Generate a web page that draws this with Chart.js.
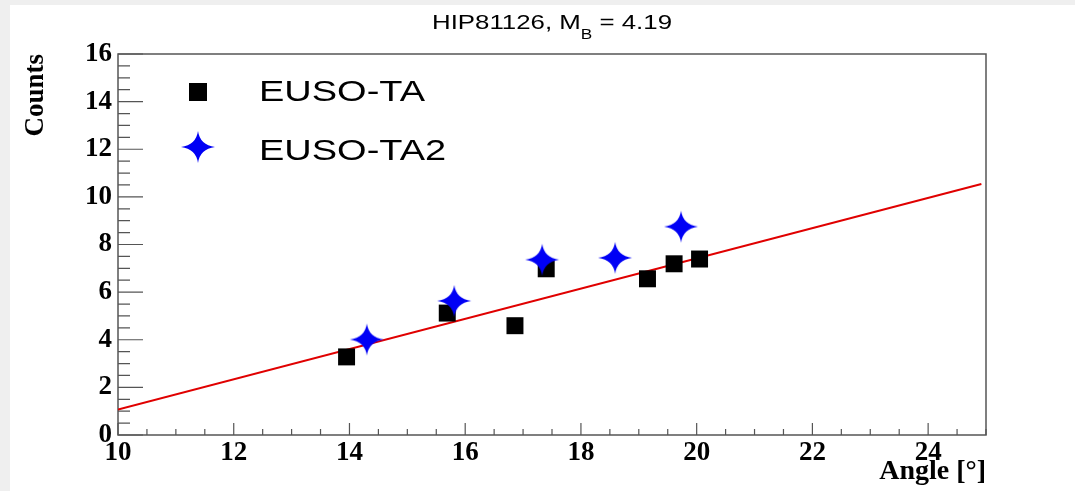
<!DOCTYPE html>
<html>
<head>
<meta charset="utf-8">
<style>
  html, body { margin: 0; padding: 0; background: #efefef; }
  canvas { display: block; }
</style>
<script src="https://cdn.jsdelivr.net/npm/chart.js@4.4.1/dist/chart.umd.min.js"></script>
</head>
<body>
<canvas id="chart" width="1075" height="491"></canvas>
<script>
// EUSO-TA points (black squares)
const taAngle = [13.95, 15.69, 16.86, 17.40, 19.15, 19.61, 20.05];
const taCounts = [3.28, 5.12, 4.59, 6.98, 6.56, 7.19, 7.39];

// EUSO-TA2 points (blue stars)
const ta2Angle = [14.30, 15.81, 17.33, 18.59, 19.73];
const ta2Counts = [4.01, 5.63, 7.36, 7.44, 8.75];

// linear fit (end points of the red line)
const fitAngle = [10, 24.92];
const fitCounts = [1.07, 10.54];

// axes
const xTicks = [10, 12, 14, 16, 18, 20, 22, 24];
const yTicks = [0, 2, 4, 6, 8, 10, 12, 14, 16];
const xMin = 10, xMax = 25, yMin = 0, yMax = 16;
const minorStep = 0.5;

const titleMain = "HIP81126, M";
const titleSub = "B";
const titleRest = " = 4.19";

function toPoints(xs, ys) {
  return xs.map((x, i) => ({ x: x, y: ys[i] }));
}

// four pointed star marker, drawn once on a small canvas
function makeStar(rx, ry, k, color) {
  const c = document.createElement("canvas");
  c.width = rx * 2 + 2;
  c.height = ry * 2 + 2;
  const g = c.getContext("2d");
  g.translate(c.width / 2, c.height / 2);
  g.beginPath();
  g.moveTo(0, -ry);
  g.quadraticCurveTo(k, -k, rx, 0);
  g.quadraticCurveTo(k, k, 0, ry);
  g.quadraticCurveTo(-k, k, -rx, 0);
  g.quadraticCurveTo(-k, -k, 0, -ry);
  g.closePath();
  g.fillStyle = color;
  g.fill();
  return c;
}
const starImg = makeStar(17, 16, 2, "#0000f5");

// grey page with white pad
const backgroundPlugin = {
  id: "pad",
  beforeDraw(chart) {
    const ctx = chart.ctx;
    ctx.save();
    ctx.fillStyle = "#efefef";
    ctx.fillRect(0, 0, chart.width, chart.height);
    ctx.fillStyle = "#ffffff";
    ctx.fillRect(10, 5, chart.width - 10, chart.height - 5);
    ctx.restore();
  }
};

// ROOT style frame with inward ticks
const framePlugin = {
  id: "frame",
  beforeDatasetsDraw(chart) {
    const ctx = chart.ctx;
    const a = chart.chartArea;
    const xs = chart.scales.x;
    const ys = chart.scales.y;
    ctx.save();
    ctx.strokeStyle = "#555555";
    ctx.lineWidth = 1.5;
    ctx.strokeRect(a.left, a.top, a.right - a.left, a.bottom - a.top);
    ctx.lineWidth = 1.2;
    ctx.beginPath();
    for (let v = xMin; v <= xMax + 1e-9; v += minorStep) {
      const px = xs.getPixelForValue(v);
      const len = v % 2 === 0 ? 12 : 6;
      ctx.moveTo(px, a.bottom);
      ctx.lineTo(px, a.bottom - len);
    }
    for (let v = yMin; v <= yMax + 1e-9; v += minorStep) {
      const py = ys.getPixelForValue(v);
      const len = v % 2 === 0 ? 25 : 12;
      ctx.moveTo(a.left, py);
      ctx.lineTo(a.left + len, py);
    }
    ctx.stroke();
    ctx.restore();
  }
};

// title with subscript
const titlePlugin = {
  id: "rootTitle",
  afterDraw(chart) {
    const ctx = chart.ctx;
    ctx.save();
    ctx.fillStyle = "#000";
    ctx.textBaseline = "alphabetic";
    ctx.font = "21px 'Liberation Sans'";
    const w1 = ctx.measureText(titleMain).width;
    const w3 = ctx.measureText(titleRest).width;
    ctx.font = "14px 'Liberation Sans'";
    const w2 = ctx.measureText(titleSub).width;
    const sx = 240 / (w1 + w2 + w3);
    ctx.translate(432, 29);
    ctx.scale(sx, 1);
    ctx.font = "21px 'Liberation Sans'";
    ctx.fillText(titleMain, 0, 0);
    ctx.fillText(titleRest, w1 + w2, 0);
    ctx.font = "14px 'Liberation Sans'";
    ctx.fillText(titleSub, w1, 10);
    ctx.restore();
  }
};

// legend box in the upper left of the frame
const legendPlugin = {
  id: "rootLegend",
  afterDatasetsDraw(chart) {
    const ctx = chart.ctx;
    const markerX = 198;
    const textX = 259;
    const rowY = [92, 147];
    const baseY = [101, 160];
    ctx.save();
    ctx.font = "29px 'Liberation Sans'";
    const sx = 166 / ctx.measureText("EUSO-TA").width;
    chart.data.datasets.forEach((ds) => {
      if (!ds.inLegend) return;
      const y = rowY[ds.legendRow];
      if (ds.pointStyle === "rect") {
        ctx.fillStyle = ds.backgroundColor;
        ctx.fillRect(markerX - 9, y - 9, 18, 18);
      } else {
        ctx.drawImage(ds.pointStyle, markerX - ds.pointStyle.width / 2, y - ds.pointStyle.height / 2);
      }
      ctx.save();
      ctx.fillStyle = "#000";
      ctx.translate(textX, baseY[ds.legendRow]);
      ctx.scale(sx, 1);
      ctx.fillText(ds.label, 0, 0);
      ctx.restore();
    });
    ctx.restore();
  }
};

const tickFont = { family: "'Liberation Serif'", size: 27, weight: "bold" };

new Chart(document.getElementById("chart"), {
  type: "scatter",
  data: {
    datasets: [
      {
        label: "EUSO-TA2",
        data: toPoints(ta2Angle, ta2Counts),
        pointStyle: starImg,
        pointRadius: 17,
        backgroundColor: "#0000f5",
        inLegend: true,
        legendRow: 1
      },
      {
        label: "EUSO-TA",
        data: toPoints(taAngle, taCounts),
        pointStyle: "rect",
        pointRadius: 12,
        borderWidth: 0,
        backgroundColor: "#000000",
        borderColor: "#000000",
        inLegend: true,
        legendRow: 0
      },
      {
        label: "fit",
        data: toPoints(fitAngle, fitCounts),
        showLine: true,
        pointRadius: 0,
        borderColor: "#e00000",
        borderWidth: 2,
        inLegend: false
      }
    ]
  },
  options: {
    responsive: false,
    animation: false,
    layout: { padding: { left: 0, right: 89, top: 54, bottom: 0 } },
    plugins: {
      legend: { display: false },
      title: { display: false },
      tooltip: { enabled: false }
    },
    scales: {
      x: {
        type: "linear",
        min: xMin,
        max: xMax,
        afterBuildTicks: (scale) => { scale.ticks = xTicks.map((v) => ({ value: v })); },
        afterFit: (scale) => { scale.height = 56; },
        grid: { display: false, drawTicks: false },
        border: { display: false },
        ticks: { font: tickFont, color: "#000", padding: 2, maxRotation: 0, autoSkip: false },
        title: {
          display: true,
          text: "Angle [°]",
          align: "end",
          color: "#000",
          font: { family: "'Liberation Serif'", size: 28, weight: "bold" },
          padding: { top: 0, bottom: 2 }
        }
      },
      y: {
        type: "linear",
        min: yMin,
        max: yMax,
        afterBuildTicks: (scale) => { scale.ticks = yTicks.map((v) => ({ value: v })); },
        afterFit: (scale) => { scale.width = 118; },
        grid: { display: false, drawTicks: false },
        border: { display: false },
        ticks: { font: tickFont, color: "#000", padding: 6, autoSkip: false },
        title: {
          display: true,
          text: "Counts",
          align: "end",
          color: "#000",
          font: { family: "'Liberation Serif'", size: 27, weight: "bold" },
          padding: { top: 20, bottom: 0 }
        }
      }
    }
  },
  plugins: [backgroundPlugin, framePlugin, legendPlugin, titlePlugin]
});
</script>
</body>
</html>
